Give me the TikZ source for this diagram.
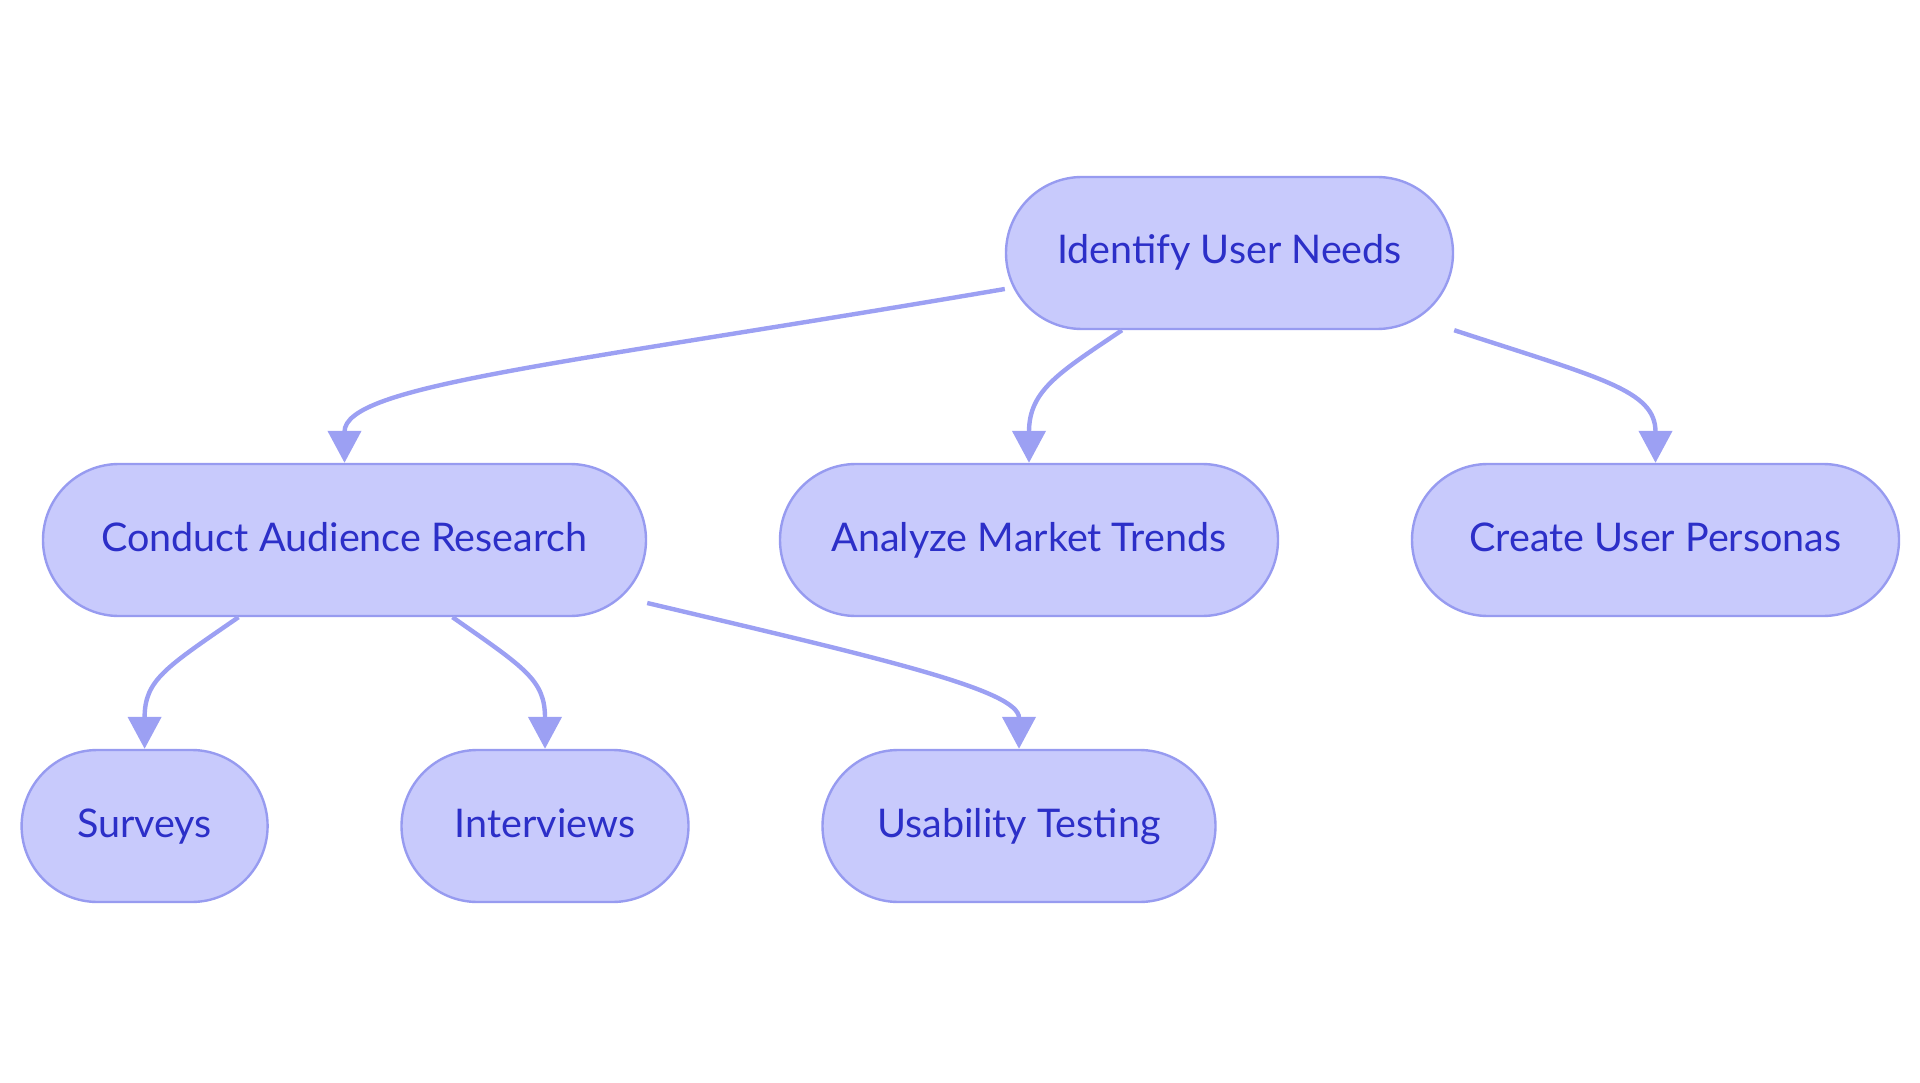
\documentclass[tikz,border=0pt]{standalone}
\usepackage{fontspec}
\setmainfont{Lato}
\usetikzlibrary{arrows.meta}
\definecolor{nodefill}{HTML}{C8CAFC}
\definecolor{nodeline}{HTML}{979BF0}
\definecolor{edgecol}{HTML}{9CA0F3}
\definecolor{txtcol}{HTML}{2C2FC8}
\tikzset{
  stadium/.style={draw=nodeline, fill=nodefill, line width=2.4pt,
    rectangle, rounded corners=76pt, minimum height=152pt, inner sep=0pt,
    text=txtcol, font=\fontsize{39.5pt}{47pt}\selectfont,
    text height=28pt, text depth=6pt},
  link/.style={draw=edgecol, line width=4.4pt,
    -{Triangle[length=32pt,width=33pt]}}
}
\begin{document}
\begin{tikzpicture}[x=1pt,y=-1pt]
\useasboundingbox (0,0) rectangle (1920,1083);
\node[stadium, minimum width=447pt] (iun) at (1229.5,253) {Identify User Needs};
\node[stadium, minimum width=603pt] (car) at (344.5,540) {Conduct Audience Research};
\node[stadium, minimum width=498pt] (amt) at (1029,540) {Analyze Market Trends};
\node[stadium, minimum width=487pt] (cup) at (1655.5,540) {Create User Personas};
\node[stadium, minimum width=246pt] (sur) at (144.6,826) {Surveys};
\node[stadium, minimum width=287pt] (int) at (545,826) {Interviews};
\node[stadium, minimum width=393pt] (ust) at (1019,826) {Usability Testing};

\draw[link] ([yshift=-36pt]iun.west) .. controls (560,365) and (344.5,385) .. (car.north);
\draw[link] ([xshift=-107.5pt]iun.south) .. controls (1060,372) and (1029,390) .. (amt.north);
\draw[link] (iun.south east) .. controls (1600,378) and (1655.5,390) .. (cup.north);
\draw[link] ([xshift=-106pt]car.south) .. controls (165,668) and (144.6,680) .. (sur.north);
\draw[link] ([xshift=108pt]car.south) .. controls (525,668) and (545,680) .. (int.north);
\draw[link] ([yshift=-63pt]car.east) .. controls (880,658) and (1019,690) .. (ust.north);
\end{tikzpicture}
\end{document}
